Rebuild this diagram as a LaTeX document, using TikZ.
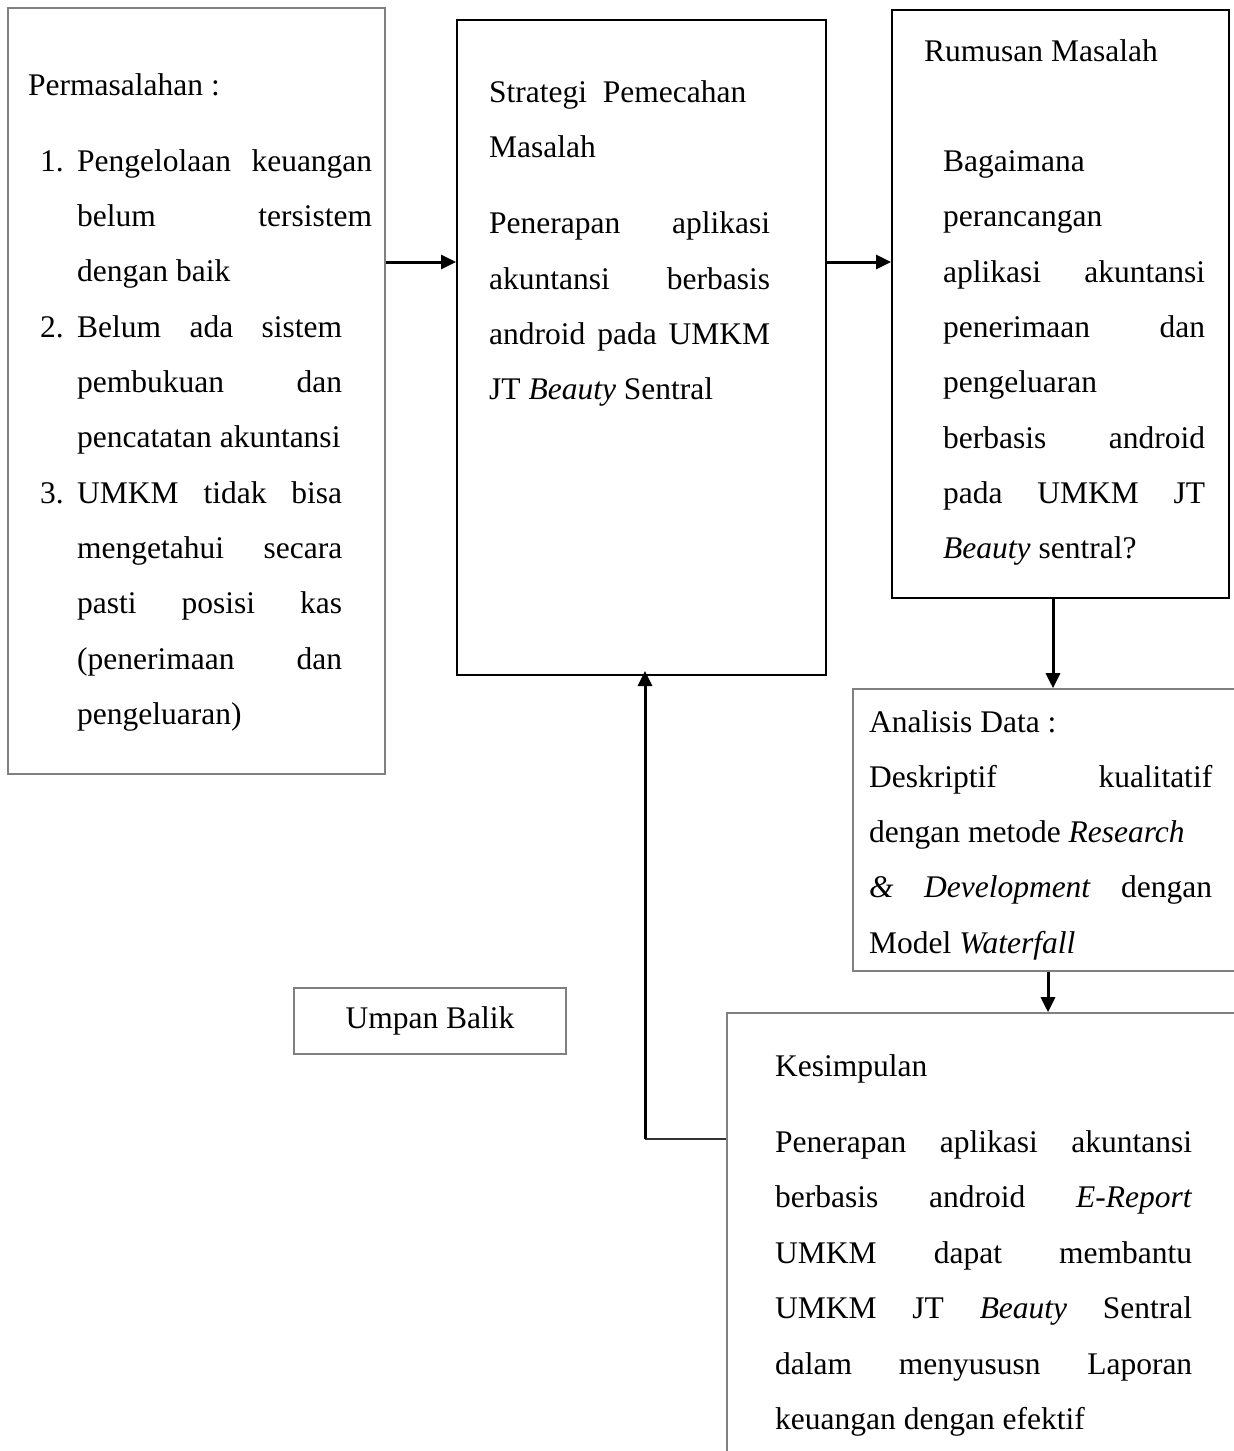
\documentclass[tikz,border=0pt]{standalone}
\usepackage{fontspec}
\setmainfont{Liberation Serif}
\usetikzlibrary{arrows.meta}
\newcommand{\JL}[2]{\hbox to #1{#2}}
\begin{document}
\begin{tikzpicture}[x=1pt,y=-1pt,
  bbox/.style={draw=black,line width=2pt,inner sep=0pt},
  gbox/.style={draw=black!50,line width=1.6pt,inner sep=0pt},
  txt/.style={anchor=base west,inner sep=0pt,font=\fontsize{31.5}{40}\selectfont},
  arr/.style={line width=3pt,-{Triangle[length=15pt,width=14pt]}},
  ln/.style={line width=1.6pt,black!80}]
\useasboundingbox (0,0) rectangle (1234,1451);
\clip (0,0) rectangle (1234,1451);
% boxes
\node[gbox,minimum width=377pt,minimum height=766pt] (perm) at (196.5,391) {};
\node[bbox,minimum width=369pt,minimum height=655pt] (strat) at (641.5,347.5) {};
\node[bbox,minimum width=337pt,minimum height=588pt] (rum) at (1060.5,304) {};
\node[gbox,minimum width=450pt,minimum height=282pt] (anal) at (1078,830) {};
\node[gbox,minimum width=272pt,minimum height=66pt,font=\fontsize{31.5}{40}\selectfont] (umpan) at (430,1021) {Umpan Balik};
\node[gbox,minimum width=600pt,minimum height=600pt] (kes) at (1027,1313) {};
% Permasalahan text
\node[txt] (p0) at (28,95) {Permasalahan :};
\node[txt] (n1) at (40,171) {1.};
\node[txt] (p1) at (77,171) {\JL{295pt}{Pengelolaan\hfill keuangan}};
\node[txt] (p2) at (77,226) {\JL{295pt}{belum\hfill tersistem}};
\node[txt] (p3) at (77,281) {dengan baik};
\node[txt] (n2) at (40,337) {2.};
\node[txt] (p4) at (77,337) {\JL{265pt}{Belum\hfill ada\hfill sistem}};
\node[txt] (p5) at (77,392) {\JL{265pt}{pembukuan\hfill dan}};
\node[txt] (p6) at (77,447) {pencatatan akuntansi};
\node[txt] (n3) at (40,503) {3.};
\node[txt] (p7) at (77,503) {\JL{265pt}{UMKM\hfill tidak\hfill bisa}};
\node[txt] (p8) at (77,558) {\JL{265pt}{mengetahui\hfill secara}};
\node[txt] (p9) at (77,613) {\JL{265pt}{pasti\hfill posisi\hfill kas}};
\node[txt] (p10) at (77,669) {\JL{265pt}{(penerimaan\hfill dan}};
\node[txt] (p11) at (77,724) {pengeluaran)};
% Strategi text
\node[txt] (s1) at (489,102) {Strategi\ \ Pemecahan};
\node[txt] (s2) at (489,157) {Masalah};
\node[txt] (s3) at (489,233) {\JL{281pt}{Penerapan\hfill aplikasi}};
\node[txt] (s4) at (489,289) {\JL{281pt}{akuntansi\hfill berbasis}};
\node[txt] (s5) at (489,344) {\JL{281pt}{android\hfill pada\hfill UMKM}};
\node[txt] (s6) at (489,399) {JT \textit{Beauty} Sentral};
% Rumusan text
\node[txt] (r0) at (924,61) {Rumusan Masalah};
\node[txt] (r1) at (943,171) {Bagaimana};
\node[txt] (r2) at (943,226) {perancangan};
\node[txt] (r3) at (943,282) {\JL{262pt}{aplikasi\hfill akuntansi}};
\node[txt] (r4) at (943,337) {\JL{262pt}{penerimaan\hfill dan}};
\node[txt] (r5) at (943,392) {pengeluaran};
\node[txt] (r6) at (943,448) {\JL{262pt}{berbasis\hfill android}};
\node[txt] (r7) at (943,503) {\JL{262pt}{pada\hfill UMKM\hfill JT}};
\node[txt] (r8) at (943,558) {\textit{Beauty} sentral?};
% Analisis text
\node[txt] (a0) at (869,732) {Analisis Data :};
\node[txt] (a1) at (869,787) {\JL{343pt}{Deskriptif\hfill kualitatif}};
\node[txt] (a2) at (869,842) {dengan metode \textit{Research}};
\node[txt] (a3) at (869,897) {\JL{343pt}{\textit{\&}\hfill\textit{Development}\hfill dengan}};
\node[txt] (a4) at (869,953) {Model \textit{Waterfall}};
% Kesimpulan text
\node[txt] (k0) at (775,1076) {Kesimpulan};
\node[txt] (k1) at (775,1152) {\JL{417pt}{Penerapan\hfill aplikasi\hfill akuntansi}};
\node[txt] (k2) at (775,1207) {\JL{417pt}{berbasis\hfill android\hfill \textit{E-Report}}};
\node[txt] (k3) at (775,1263) {\JL{417pt}{UMKM\hfill dapat\hfill membantu}};
\node[txt] (k4) at (775,1318) {\JL{417pt}{UMKM\hfill JT\hfill \textit{Beauty}\hfill Sentral}};
\node[txt] (k5) at (775,1374) {\JL{417pt}{dalam\hfill menyususn\hfill Laporan}};
\node[txt] (k6) at (775,1429) {keuangan dengan efektif};
% connectors
\draw[arr] (perm.east |- 0,262) -- (strat.west |- 0,262);
\draw[arr] (strat.east |- 0,262) -- (rum.west |- 0,262);
\draw[arr] (rum.south -| 1053,0) -- (anal.north -| 1053,0);
\draw[arr] (anal.south -| 1048,0) -- (kes.north -| 1048,0);
\coordinate (fb) at (645,1139);
\draw[ln] (kes.west |- fb) -- (fb);
\draw[arr] (fb) -- ([yshift=5pt]strat.south -| fb);
\end{tikzpicture}
\end{document}
